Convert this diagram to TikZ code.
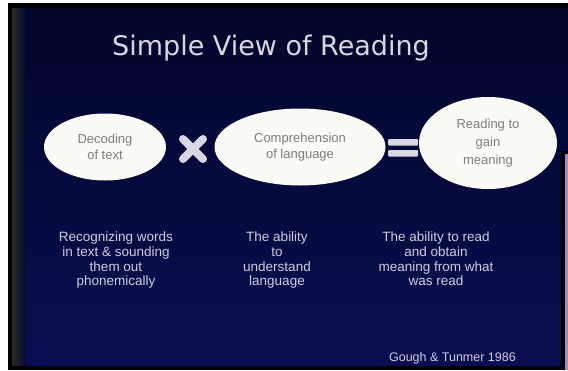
\documentclass[tikz,border=0pt]{standalone}
\usepackage{fontspec}
\setmainfont{Liberation Sans}
\newfontfamily\titlefont{DejaVu Sans}
\usetikzlibrary{shapes.geometric}
\definecolor{navytop}{RGB}{2,6,42}
\definecolor{navybot}{RGB}{10,14,82}
\definecolor{stripc}{RGB}{44,40,36}
\definecolor{ovalfill}{RGB}{250,250,246}
\definecolor{ovaltext}{RGB}{125,125,125}
\definecolor{bodytext}{RGB}{205,205,222}
\definecolor{titletext}{RGB}{215,215,222}
\definecolor{symc}{RGB}{215,215,228}
\definecolor{lavender}{RGB}{165,140,185}
\tikzset{
  oval/.style={ellipse, fill=ovalfill, draw=none, inner sep=0pt, align=center,
    text=ovaltext, font=\fontsize{13}{16.5}\selectfont},
  body/.style={align=center, inner sep=0pt, anchor=north, text=bodytext,
    font=\fontsize{13.5}{14.6}\selectfont},
  symbar/.style={line width=8pt, line cap=round, draw=symc},
}
\begin{document}
\begin{tikzpicture}[x=1pt,y=-1pt]
\useasboundingbox (0,0) rectangle (568,370);
\fill[white] (0,0) rectangle (568,370);
% slide background
\shade[top color=navytop, bottom color=navybot] (12,8) rectangle (568,367);
\shade[left color=stripc, right color=navytop!80!navybot] (12,8) rectangle (26,367);
% frame
\fill[black] (8,3) rectangle (568,8);
\fill[black] (8,3) rectangle (12,370);
\fill[black] (8,366) rectangle (568,370);
\fill[black] (561,151) rectangle (568,370);
\fill[lavender] (565,154) rectangle (568,370);
% title
\node[anchor=base, text=titletext, font=\titlefont\fontsize{27}{30}\selectfont, inner sep=0pt]
  (title) at (271,55) {Simple View of Reading};
% ovals
\node[oval, minimum width=122pt, minimum height=67pt] (dec) at (105,147) {Decoding\\of text};
\node[oval, minimum width=171pt, minimum height=77pt] (comp) at (300,147) {Comprehension\\of language};
\node[oval, minimum width=138pt, minimum height=92pt, font=\fontsize{13}{18}\selectfont] (read) at (488,143) {Reading to\\gain\\meaning};
% times sign
\coordinate (times) at (193,149);
\draw[symbar] ([shift={(-10,-10)}]times) -- ([shift={(10,10)}]times);
\draw[symbar] ([shift={(-10,10)}]times) -- ([shift={(10,-10)}]times);
% equals sign
\coordinate (eq) at (403,148);
\fill[symc, rounded corners=1pt] ([shift={(-15,-9)}]eq) rectangle ([shift={(15,-2.5)}]eq);
\fill[symc, rounded corners=1pt] ([shift={(-15,2)}]eq) rectangle ([shift={(15,8.5)}]eq);
% descriptions
\node[body] (d1) at (116,232) {Recognizing words\\in text \& sounding\\them out\\phonemically};
\node[body] (d2) at (277,232) {The ability\\to\\understand\\language};
\node[body] (d3) at (436,232) {The ability to read\\and obtain\\meaning from what\\was read};
% citation
\node[anchor=base east, inner sep=0pt, text=bodytext, font=\fontsize{12.5}{14}\selectfont]
  (cite) at (516,361) {Gough \& Tunmer 1986};
\end{tikzpicture}
\end{document}
